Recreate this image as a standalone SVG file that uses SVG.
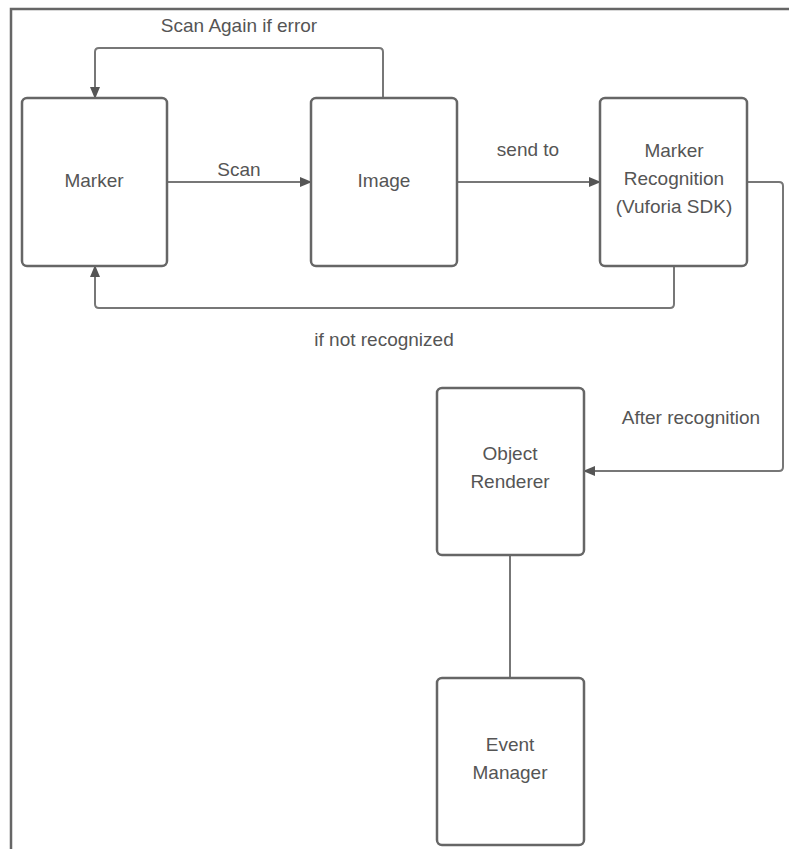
<svg xmlns="http://www.w3.org/2000/svg" width="789" height="849" viewBox="0 0 789 849">
<defs>
<marker id="ah" markerWidth="12" markerHeight="10" refX="11" refY="5" orient="auto" markerUnits="userSpaceOnUse">
<path d="M0,0 L12,5 L0,10 Z" fill="#555"/>
</marker>
<style>
.box{fill:#fff;stroke:#666;stroke-width:2.5}
.lbl{font-family:"Liberation Sans",Arial,sans-serif;font-size:19px;fill:#555;text-anchor:middle}
.con{fill:none;stroke:#777;stroke-width:2}
.frame{fill:none;stroke:#666;stroke-width:2.5}
</style>
</defs>
<rect width="789" height="849" fill="#fff"/>
<path class="frame" d="M11,849 V9 H789"/>
<g id="connectors">
<path class="con" d="M167,182 H311" marker-end="url(#ah)"/>
<path class="con" d="M457,182 H600" marker-end="url(#ah)"/>
<path class="con" d="M383,98 V52 Q383,48 379,48 H99 Q95,48 95,52 V98" marker-end="url(#ah)"/>
<path class="con" d="M674,266 V304 Q674,308 670,308 H99 Q95,308 95,304 V266" marker-end="url(#ah)"/>
<path class="con" d="M747,182 H779 Q783,182 783,186 V467 Q783,471 779,471 H584" marker-end="url(#ah)"/>
<path class="con" d="M510,555 V678"/>
<text class="lbl" x="239" y="32">Scan Again if error</text>
<text class="lbl" x="239" y="176">Scan</text>
<text class="lbl" x="528" y="156">send to</text>
<text class="lbl" x="384" y="346">if not recognized</text>
<text class="lbl" x="691" y="424">After recognition</text>
</g>
<g id="marker">
<rect class="box" x="22" y="98" width="145" height="168" rx="5"/>
<text class="lbl" x="94" y="187">Marker</text>
</g>
<g id="image">
<rect class="box" x="311" y="98" width="146" height="168" rx="5"/>
<text class="lbl" x="384" y="187">Image</text>
</g>
<g id="recognition">
<rect class="box" x="600" y="98" width="147" height="168" rx="5"/>
<text class="lbl" x="674" y="157">Marker</text>
<text class="lbl" x="674" y="185">Recognition</text>
<text class="lbl" x="674" y="213">(Vuforia SDK)</text>
</g>
<g id="renderer">
<rect class="box" x="437" y="388" width="147" height="167" rx="5"/>
<text class="lbl" x="510" y="460">Object</text>
<text class="lbl" x="510" y="488">Renderer</text>
</g>
<g id="event">
<rect class="box" x="437" y="678" width="147" height="167" rx="5"/>
<text class="lbl" x="510" y="751">Event</text>
<text class="lbl" x="510" y="779">Manager</text>
</g>
</svg>
